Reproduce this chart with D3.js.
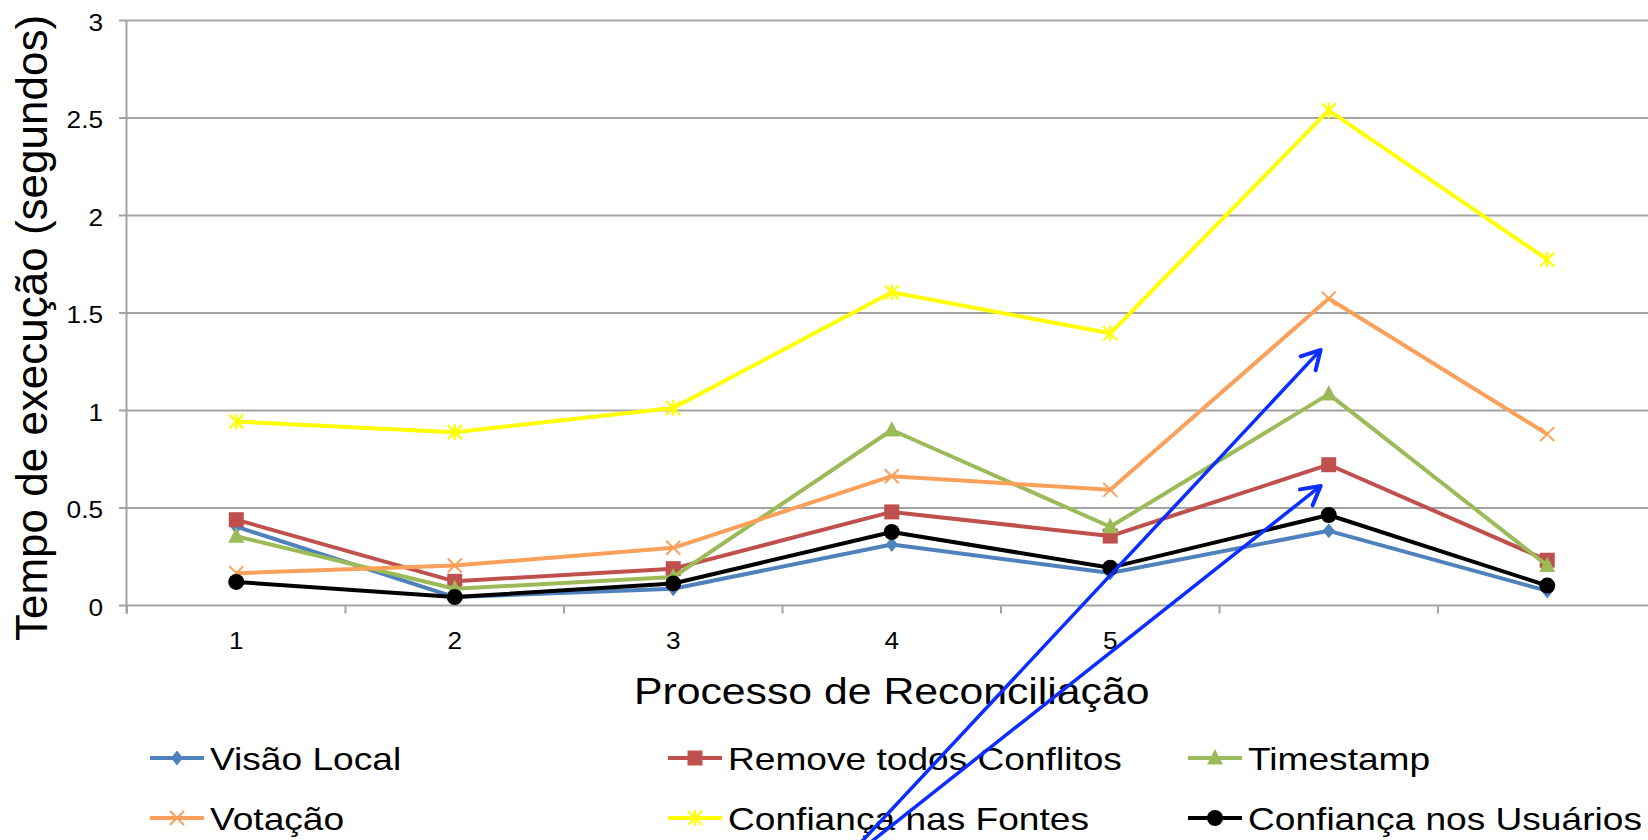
<!DOCTYPE html>
<html><head><meta charset="utf-8">
<script src="https://cdn.jsdelivr.net/npm/d3@7"></script>
<style>
body{margin:0;background:#fff;overflow:hidden;}
svg{display:block;font-family:"Liberation Sans",Arial,Helvetica,sans-serif;}
</style>
</head><body>
<svg id="chart" width="1648" height="840"></svg>
<script>
// ---------- data ----------
const categories = ["1","2","3","4","5","6","7"];
const xTickLabels = ["1","2","3","4","5","",""];
const yTicks = [0, 0.5, 1, 1.5, 2, 2.5, 3];
const seriesNames = ["Visão Local","Remove todos Conflitos","Timestamp","Votação","Confiança nas Fontes","Confiança nos Usuários"];
const visaoLocal = [0.404, 0.043, 0.086, 0.313, 0.167, 0.383, 0.075];
const removeTodos = [0.440, 0.124, 0.189, 0.480, 0.356, 0.722, 0.232];
const timestamp = [0.355, 0.086, 0.146, 0.900, 0.404, 1.084, 0.205];
const votacao = [0.166, 0.205, 0.296, 0.663, 0.593, 1.574, 0.879];
const confiancaFontes = [0.943, 0.889, 1.013, 1.606, 1.396, 2.539, 1.774];
const confiancaUsuarios = [0.121, 0.043, 0.113, 0.377, 0.194, 0.464, 0.102];
const seriesColors = ["#4F81BD","#C0504D","#9BBB59","#F9A05A","#FFFF00","#000000"];
const seriesMarkers = ["diamond","square","triangle","x","asterisk","circle"];
// annotation arrows (data space: x = category index, y = seconds)
const arrowHeads = [{x:4.963, y:1.311},{x:4.963, y:0.613}];
const arrowTails = [{x:2.863, y:-1.21},{x:2.908, y:-1.21}];

const yTitle = "Tempo de execução (segundos)";
const xTitle = "Processo de Reconciliação";

// ---------- layout ----------
const svg = d3.select("#chart");
const W = 1648, H = 840;
const stretch = 1.14;   // reference text is slightly widened
const plotLeft = 127, step = 218.5;
const x = d3.scaleBand().domain(categories).range([plotLeft, plotLeft + step*categories.length]).paddingInner(0).paddingOuter(0);
const xi = d3.scaleLinear().domain([0,1]).range([plotLeft + step/2, plotLeft + step*1.5]);
const y = d3.scaleLinear().domain([0,3]).range([605.5, 20.5]);
const gridColor = "#A3A3A3";

const allSeries = [visaoLocal, removeTodos, timestamp, votacao, confiancaFontes, confiancaUsuarios];

// gridlines
svg.append("g").selectAll("line").data(yTicks).join("line")
  .attr("x1", plotLeft - 8).attr("x2", W)
  .attr("y1", d => y(d)).attr("y2", d => y(d))
  .attr("stroke", gridColor).attr("stroke-width", 2);

// y axis line
svg.append("line").attr("x1", plotLeft-0.5).attr("x2", plotLeft-0.5)
  .attr("y1", y(3)).attr("y2", y(0)+8).attr("stroke", gridColor).attr("stroke-width", 2);

// x boundary ticks
const bounds = d3.range(categories.length + 1).map(i => plotLeft + i*step);
svg.append("g").selectAll("line").data(bounds).join("line")
  .attr("x1", d => d).attr("x2", d => d)
  .attr("y1", y(0)).attr("y2", y(0)+8)
  .attr("stroke", gridColor).attr("stroke-width", 2);

// y tick labels via axis
const yAxis = d3.axisLeft(y).tickValues(yTicks).tickSize(0).tickPadding(0).tickFormat(d => String(d));
const gy = svg.append("g").attr("transform", `translate(${plotLeft - 24},0)`).call(yAxis);
gy.select(".domain").remove();
gy.selectAll("text").attr("x", 0).attr("font-size", 23).attr("fill", "#000")
  .attr("font-family", "Liberation Sans, Arial, sans-serif").attr("dy", "0.42em")
  .attr("transform", `scale(${stretch},1)`);

// x tick labels via axis
const xAxis = d3.axisBottom(x).tickSize(0).tickPadding(0).tickFormat((d,i) => xTickLabels[i]);
const gx = svg.append("g").attr("transform", `translate(0,${y(0)+43.5})`).call(xAxis);
gx.select(".domain").remove();
gx.selectAll("text").attr("y", 0).attr("dy", 0).attr("font-size", 23).attr("fill", "#000")
  .attr("font-family", "Liberation Sans, Arial, sans-serif")
  .attr("transform", `scale(${stretch},1)`);

// axis titles
svg.append("text").attr("transform", `translate(47,328) rotate(-90)`)
  .attr("text-anchor", "middle").attr("font-size", 44).attr("fill", "#000").text(yTitle);
svg.append("text").attr("transform", `translate(${plotLeft + step*categories.length/2},704) scale(${stretch},1)`)
  .attr("text-anchor", "middle").attr("font-size", 37.5).attr("fill", "#000").text(xTitle);

// marker drawing
function marker(g, type, color, cx, cy) {
  const s = g.append("g").attr("transform", `translate(${cx},${cy})`);
  if (type === "diamond") {
    s.append("path").attr("d", "M0,-7.5L6,0L0,7.5L-6,0Z").attr("fill", color);
  } else if (type === "square") {
    s.append("rect").attr("x",-7.5).attr("y",-7.5).attr("width",15).attr("height",15).attr("fill", color);
  } else if (type === "triangle") {
    s.append("path").attr("d", "M0,-9L8,6.5L-8,6.5Z").attr("fill", color);
  } else if (type === "circle") {
    s.append("circle").attr("r", 8).attr("fill", color);
  } else if (type === "x") {
    s.append("path").attr("d", "M-7,-7L7,7M-7,7L7,-7").attr("stroke", color).attr("stroke-width", 2).attr("fill","none");
  } else if (type === "asterisk") {
    s.append("path").attr("d", "M-7,-7L7,7M-7,7L7,-7M0,-8L0,8").attr("stroke", color).attr("stroke-width", 2.2).attr("fill","none");
  }
}

const line = d3.line().x((d,i) => x(categories[i]) + x.bandwidth()/2).y(d => y(d));
const plotG = svg.append("g");
allSeries.forEach((vals, k) => {
  const g = plotG.append("g");
  g.append("path").attr("d", line(vals)).attr("fill","none")
    .attr("stroke", seriesColors[k]).attr("stroke-width", 4).attr("stroke-linejoin","round");
  vals.forEach((v,i) => marker(g, seriesMarkers[k], seriesColors[k], x(categories[i]) + x.bandwidth()/2, y(v)));
});

// legend
const legendCols = [150, 668, 1188];
const legendRows = [758, 818];
seriesNames.forEach((name, k) => {
  const cx = legendCols[k % 3], cy = legendRows[Math.floor(k/3)];
  const g = svg.append("g");
  g.append("line").attr("x1", cx).attr("x2", cx+54).attr("y1", cy).attr("y2", cy)
    .attr("stroke", seriesColors[k]).attr("stroke-width", 4);
  marker(g, seriesMarkers[k], seriesColors[k], cx+27, cy);
  g.append("text").attr("transform", `translate(${cx+60},${cy+12}) scale(${stretch + 0.02},1)`)
    .attr("font-size", 32).attr("fill","#000").text(name);
});

// annotation arrows
const arrowColor = "#0A2EFF";
arrowHeads.forEach((h, k) => {
  const t = arrowTails[k];
  const x1 = xi(t.x), y1 = y(t.y), x2 = xi(h.x), y2 = y(h.y);
  svg.append("line").attr("x1", x1).attr("y1", y1).attr("x2", x2).attr("y2", y2)
    .attr("stroke", arrowColor).attr("stroke-width", 3.5);
  const ang = Math.atan2(y2 - y1, x2 - x1), L = 21, a = Math.PI/6.2;
  const p = d3.path();
  p.moveTo(x2 - L*Math.cos(ang - a), y2 - L*Math.sin(ang - a));
  p.lineTo(x2, y2);
  p.lineTo(x2 - L*Math.cos(ang + a), y2 - L*Math.sin(ang + a));
  svg.append("path").attr("d", p.toString()).attr("fill","none")
    .attr("stroke", arrowColor).attr("stroke-width", 4).attr("stroke-linecap","round").attr("stroke-linejoin","round");
});
</script>
</body></html>
